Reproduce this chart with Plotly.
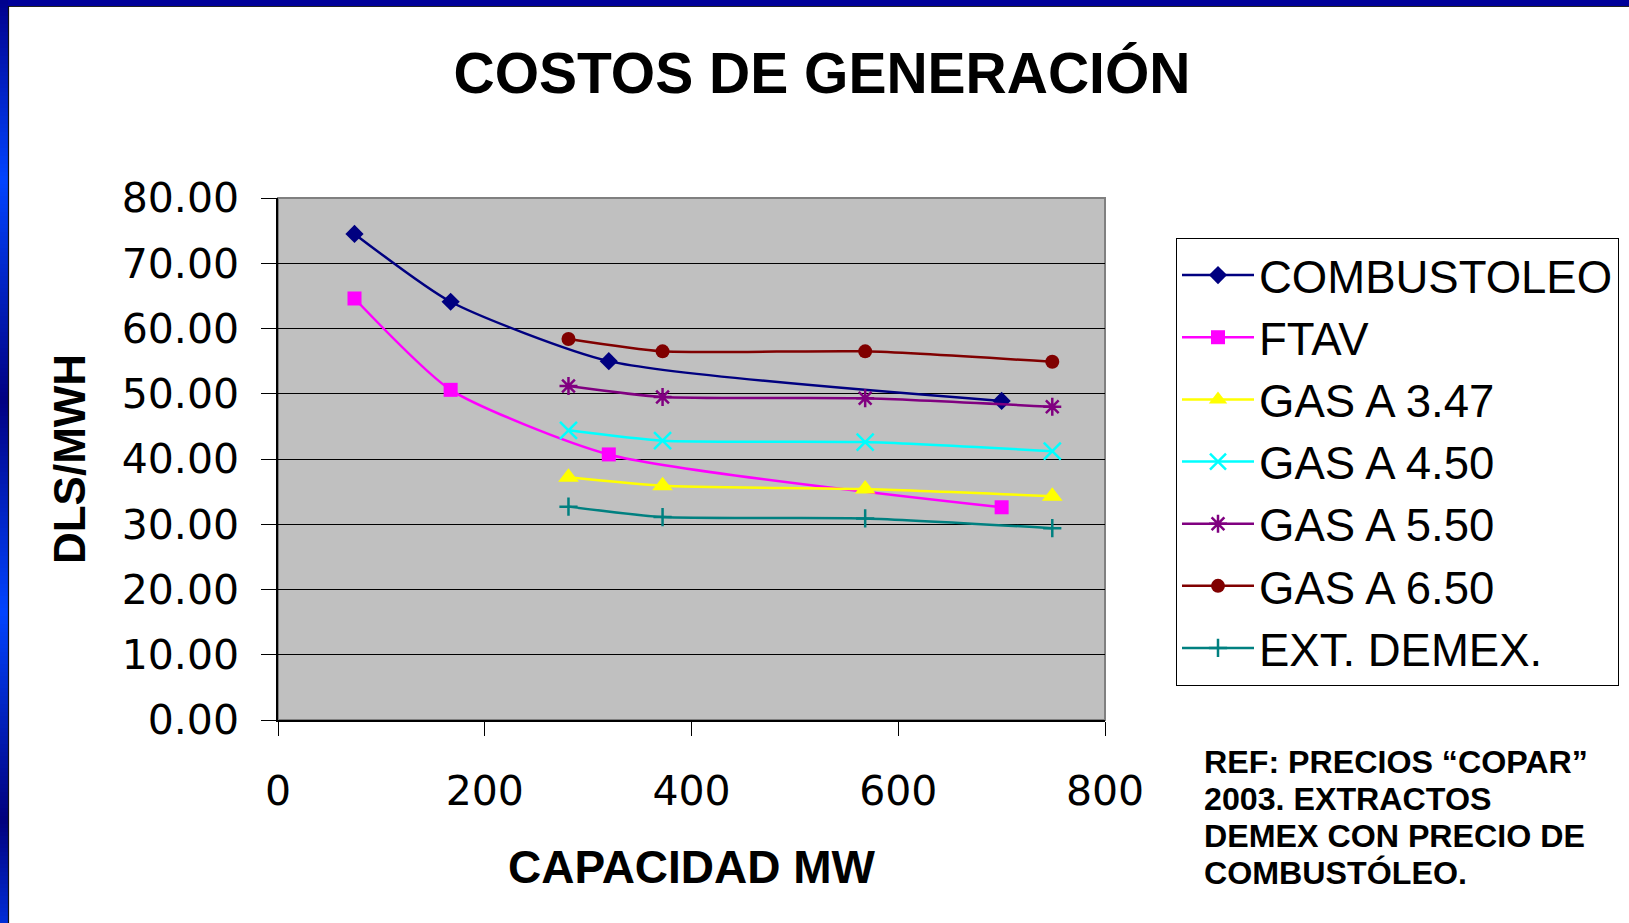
import plotly.graph_objects as go

# ---------------- data ----------------
x_comb = [74, 167, 320, 700]
y_comb = [74.5, 64.1, 55.0, 48.9]

x_ftav = [74, 167, 320, 700]
y_ftav = [64.6, 50.6, 40.7, 32.6]

x_gas = [281, 372, 568, 749]
y_gas347 = [37.2, 35.9, 35.4, 34.3]
y_gas450 = [44.4, 42.8, 42.6, 41.2]
y_gas550 = [51.2, 49.5, 49.3, 48.0]
y_gas650 = [58.4, 56.5, 56.5, 54.9]
y_demex = [32.7, 31.1, 30.9, 29.4]

series_names = ["COMBUSTOLEO", "FTAV", "GAS A 3.47", "GAS A 4.50",
                "GAS A 5.50", "GAS A 6.50", "EXT. DEMEX."]
y_ticks = [0, 10, 20, 30, 40, 50, 60, 70, 80]
x_ticks = [0, 200, 400, 600, 800]

note_lines = ["REF: PRECIOS \u201cCOPAR\u201d", "2003. EXTRACTOS",
              "DEMEX CON PRECIO DE", "COMBUST\u00d3LEO."]

# ---------------- geometry ----------------
W, H = 1629, 923
PL, PR, PT, PB = 278, 1105, 198, 720  # plot area in pixels


def px_x(px):
    return (px - PL) / (PR - PL)


def px_y(py):
    return (PB - py) / (PB - PT)


FONT = "Liberation Sans, Arial, sans-serif"
TICKFONT = "DejaVu Sans, sans-serif"

fig = go.Figure()

specs = [
    (x_comb, y_comb, "#000080", dict(symbol="diamond", size=14)),
    (x_ftav, y_ftav, "#FF00FF", dict(symbol="square", size=14)),
    (x_gas, y_gas347, "#FFFF00", dict(symbol="triangle-up", size=18)),
    (x_gas, y_gas450, "#00FFFF", dict(symbol="x-thin-open", size=17, line=dict(width=2.5, color="#00FFFF"))),
    (x_gas, y_gas550, "#800080", dict(symbol="asterisk-open", size=15, line=dict(width=2.5, color="#800080"))),
    (x_gas, y_gas650, "#800000", dict(symbol="circle", size=14)),
    (x_gas, y_demex, "#008080", dict(symbol="cross-thin-open", size=13, line=dict(width=2.5, color="#008080"))),
]

for i, (xs, ys, col, mk) in enumerate(specs):
    fig.add_trace(go.Scatter(
        x=xs, y=ys, name=series_names[i], mode="lines+markers",
        line=dict(color=col, width=2.5, shape="spline", smoothing=0.6),
        marker=dict(color=col, **mk),
        legendgroup=f"g{i}",
    ))

shapes = []
# grey border around plot area (top/right)
shapes.append(dict(type="rect", xref="paper", yref="paper", x0=0, x1=1, y0=0, y1=1,
                   line=dict(color="#808080", width=2), fillcolor="rgba(0,0,0,0)", layer="below"))

# blue slide frame: top bar
shapes.append(dict(type="rect", xref="paper", yref="paper",
                   x0=px_x(0), x1=px_x(W), y0=px_y(0), y1=px_y(6),
                   line=dict(width=0), fillcolor="#000099", layer="above"))
shapes.append(dict(type="line", xref="paper", yref="paper",
                   x0=px_x(8), x1=px_x(W), y0=px_y(6.5), y1=px_y(6.5),
                   line=dict(width=1.2, color="#222222"), layer="above"))

# left gradient bar
stops = [(0, (0, 0, 140)), (180, (0, 68, 255)), (400, (0, 0, 130)),
         (612, (0, 68, 255)), (820, (0, 0, 125)), (923, (0, 45, 215))]


def col_at(y):
    for (ya, ca), (yb, cb) in zip(stops[:-1], stops[1:]):
        if ya <= y <= yb:
            t = (y - ya) / (yb - ya)
            return tuple(int(round(ca[k] + (cb[k] - ca[k]) * t)) for k in range(3))
    return stops[-1][1]


step = 4
for y0 in range(0, H, step):
    c = col_at(y0 + step / 2)
    shapes.append(dict(type="rect", xref="paper", yref="paper",
                       x0=px_x(0), x1=px_x(8), y0=px_y(y0), y1=px_y(min(y0 + step, H)),
                       line=dict(width=0), fillcolor=f"rgb({c[0]},{c[1]},{c[2]})", layer="above"))
shapes.append(dict(type="line", xref="paper", yref="paper",
                   x0=px_x(8.5), x1=px_x(8.5), y0=px_y(6), y1=px_y(H),
                   line=dict(width=1.2, color="#111111"), layer="above"))

annotations = []
for k, line in enumerate(note_lines):
    annotations.append(dict(
        xref="paper", yref="paper", x=px_x(1202), y=px_y(762 + 37 * k),
        xanchor="left", yanchor="middle", showarrow=False, align="left",
        text=line, font=dict(family=FONT, size=32.2, color="black", weight="bold"),
    ))

fig.update_layout(
    width=W, height=H, autosize=False,
    margin=dict(l=PL, r=W - PR, t=PT, b=H - PB, autoexpand=False),
    paper_bgcolor="white", plot_bgcolor="#C0C0C0",
    title=dict(text="<b>COSTOS DE GENERACI\u00d3N</b>", x=822 / W, xanchor="center",
               y=1 - 73 / H, yanchor="middle", xref="container", yref="container",
               font=dict(family=FONT, size=57, color="black")),
    showlegend=True,
    legend=dict(x=px_x(1176), y=px_y(238), xanchor="left", yanchor="top",
                bgcolor="white", bordercolor="black", borderwidth=1,
                font=dict(family=FONT, size=45.5, color="black"),
                tracegroupgap=9, itemwidth=72, traceorder="normal"),
    shapes=shapes,
    annotations=annotations,
)

fig.update_xaxes(range=[0, 800], tickvals=x_ticks, ticktext=[str(v) for v in x_ticks],
                 showgrid=False, zeroline=False, showline=True, linecolor="black", linewidth=1.5,
                 ticks="outside", ticklen=14, tickcolor="black", tickwidth=1,
                 tickfont=dict(family=TICKFONT, size=41, color="black"),
                 ticklabelstandoff=20, automargin=False,
                 title=dict(text="<b>CAPACIDAD MW</b>", standoff=37,
                            font=dict(family=FONT, size=46, color="black")))
fig.update_yaxes(range=[0, 80], tickvals=y_ticks, tickformat=".2f",
                 showgrid=True, gridcolor="black", gridwidth=1, zeroline=False,
                 showline=True, linecolor="black", linewidth=1.5,
                 ticks="outside", ticklen=15, tickcolor="black", tickwidth=1,
                 tickfont=dict(family=TICKFONT, size=41, color="black"),
                 ticklabelstandoff=14, automargin=False,
                 title=dict(text="<b>DLS/MWH</b>", standoff=22,
                            font=dict(family=FONT, size=44, color="black")))

fig.write_html("out.html", config={"displayModeBar": False},
               post_script="document.body.style.margin='0';")
